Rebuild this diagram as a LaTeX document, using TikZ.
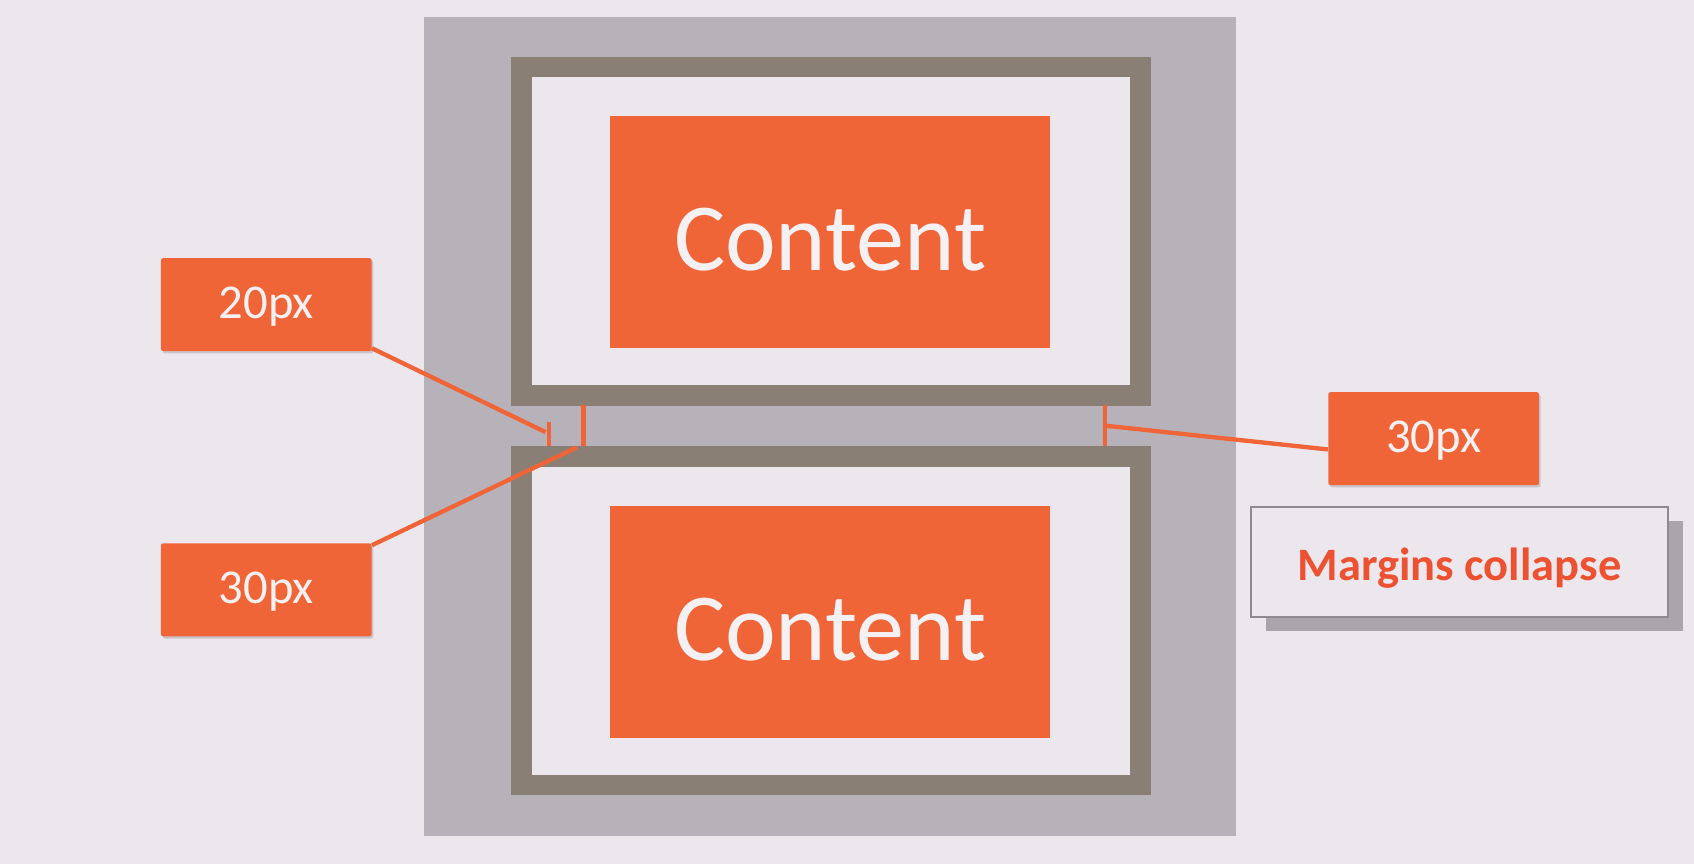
\documentclass[tikz,border=0pt]{standalone}
\usepackage{fontspec}
\setmainfont{Carlito}
\usetikzlibrary{calc}
\definecolor{bgc}{RGB}{236,231,237}
\definecolor{outerc}{RGB}{183,178,186}
\definecolor{taupe}{RGB}{137,127,117}
\definecolor{orng}{RGB}{240,101,56}
\definecolor{txtw}{RGB}{245,240,242}
\definecolor{redtxt}{RGB}{236,82,50}
\definecolor{boxline}{RGB}{143,138,144}
\definecolor{shadowc}{RGB}{170,165,173}
\tikzset{
  boxframe/.style={draw=taupe, line width=9.5pt, fill=bgc, inner sep=0pt, minimum width=286.5pt, minimum height=152pt},
  contentbox/.style={fill=orng, text=txtw, inner sep=0pt, minimum width=203.5pt, minimum height=107.5pt, font=\fontsize{44.5}{50}\selectfont},
  pxlabel/.style={fill=orng, text=txtw, inner sep=0pt, rounded corners=1pt, minimum width=97.5pt, minimum height=43pt, font=\fontsize{22.5}{26}\selectfont},
  lblshadow/.style={fill=black, opacity=0.15, inner sep=0pt, rounded corners=1pt, minimum width=97.5pt, minimum height=43pt},
  conn/.style={draw=orng, line width=2pt},
  tick/.style={draw=orng, line width=2pt}
}
\newcommand{\lowtext}[2]{\raisebox{-#1}[0pt][0pt]{#2}}
\begin{document}
\begin{tikzpicture}[x=0.5pt,y=-0.5pt]
\fill[bgc] (0,0) rectangle (1568,800);
\useasboundingbox (0,0) rectangle (1568,800);
% outer container
\node[fill=outerc, inner sep=0pt, minimum width=376pt, minimum height=379pt] (outer) at (768,395) {};
% boxes
\node[boxframe] (topbox) at (769,214) {};
\node[boxframe] (botbox) at (769,574.5) {};
\node[contentbox] (topc) at (768.5,214.5) {\lowtext{18pt}{Content}};
\node[contentbox] (botc) at (768.5,575.5) {\lowtext{18pt}{Content}};
% tick marks
\coordinate (t1a) at (508,391);
\coordinate (t1b) at (508,413);
\coordinate (t2a) at (540,375);
\coordinate (t2b) at (540,413);
\coordinate (t3a) at (1023,375);
\coordinate (t3b) at (1023,413);
\draw[tick] (t1a) -- (t1b);
\draw[tick] (t2a) -- (t2b);
\draw[tick] (t3a) -- (t3b);
% labels
\node[lblshadow] at (248,284) {};
\node[lblshadow] at (248,548) {};
\node[lblshadow] at (1328.5,408) {};
\node[pxlabel] (l20) at (246.5,282) {\lowtext{6.3pt}{20px}};
\node[pxlabel] (l30a) at (246.5,546) {\lowtext{6.3pt}{30px}};
\node[pxlabel] (l30b) at (1327,406) {\lowtext{6.3pt}{30px}};
% margins collapse box
\node[fill=shadowc, inner sep=0pt, minimum width=193pt, minimum height=51pt] at (1365,533) {};
\node[fill=bgc, draw=boxline, line width=0.8pt, inner sep=0pt, minimum width=193pt, minimum height=51pt,
      text=redtxt, font=\fontsize{21.5}{24}\selectfont\bfseries] (mc) at (1351,520) {\lowtext{8.5pt}{Margins collapse}};
% connectors
\coordinate (e1) at (505,400);
\coordinate (e2) at (534,414);
\coordinate (e3) at (1023,394);
\draw[conn] ($(l20.south east)+(0,-3)$) -- (e1);
\draw[conn] ($(l30a.north east)+(0,2)$) -- (e2);
\draw[conn] ($(l30b.west)+(0,10)$) -- (e3);
\end{tikzpicture}
\end{document}
